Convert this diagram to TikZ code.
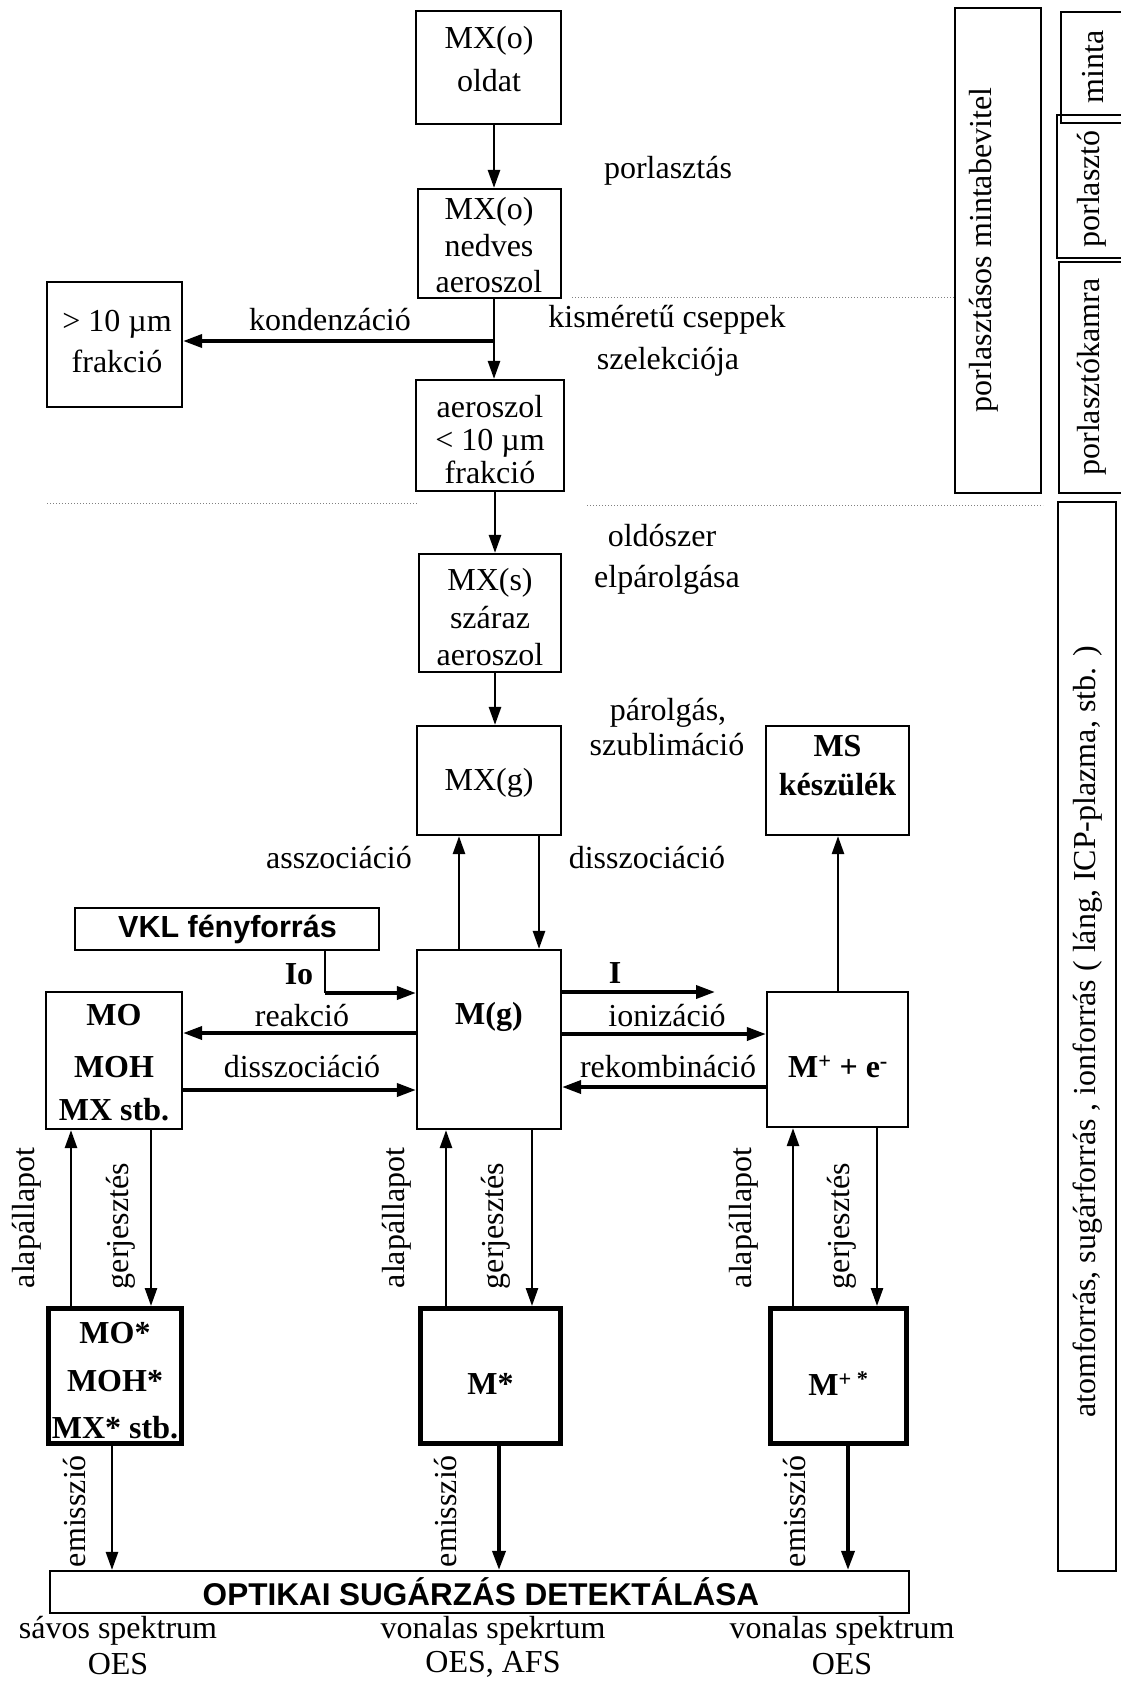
\documentclass[tikz,border=0pt]{standalone}
\usepackage{fontspec}
\setmainfont{Liberation Serif}
\newfontfamily\arialf{Liberation Sans}
\usetikzlibrary{arrows.meta}
\begin{document}
\begin{tikzpicture}[x=1pt,y=-1pt,
  box/.style={draw, line width=2.2pt, inner sep=0pt},
  tbox/.style={draw, line width=5pt, inner sep=0pt},
  txt/.style={font=\fontsize{32}{36}\selectfont, inner sep=0pt, align=center},
  btxt/.style={font=\fontsize{32}{36}\selectfont\bfseries, inner sep=0pt, align=center},
  stxt/.style={font=\arialf\bfseries\fontsize{30.5}{34}\selectfont, inner sep=0pt},
  arr/.style={line width=2.6pt, -{Triangle[length=18pt,width=12pt]}},
  tarr/.style={line width=3.6pt, -{Triangle[length=19pt,width=13pt]}},
  dotl/.style={dotted, gray, line width=1pt}
]
\useasboundingbox (0,0) rectangle (1120,1681);

% ---------- boxes ----------
\node[box, minimum width=145pt, minimum height=113pt] (oldat) at (488.5,67.5) {};
\node[box, minimum width=143pt, minimum height=109pt] (nedves) at (489.5,243.5) {};
\node[box, minimum width=135pt, minimum height=125pt] (nagy) at (114.5,344.5) {};
\node[box, minimum width=148pt, minimum height=111pt] (kis) at (490,435.5) {};
\node[box, minimum width=142pt, minimum height=118pt] (szaraz) at (490,613) {};
\node[box, minimum width=144pt, minimum height=109pt] (mxg) at (489,780.5) {};
\node[box, minimum width=143pt, minimum height=109pt] (ms) at (837.5,780.5) {};
\node[box, minimum width=304pt, minimum height=42pt] (vkl) at (227,929) {};
\node[box, minimum width=144pt, minimum height=179pt] (mg) at (489,1039.5) {};
\node[box, minimum width=136pt, minimum height=137pt] (mo) at (114,1060.5) {};
\node[box, minimum width=141pt, minimum height=135pt] (mplus) at (837.5,1059.5) {};
\node[tbox, minimum width=133pt, minimum height=135pt] (mostar) at (115,1376) {};
\node[tbox, minimum width=140pt, minimum height=135pt] (mstar) at (490.5,1376) {};
\node[tbox, minimum width=136pt, minimum height=135pt] (mpstar) at (838.5,1376) {};
\node[box, minimum width=859pt, minimum height=42pt] (opt) at (479.5,1592) {};
% right column
\node[box, minimum width=86pt, minimum height=485pt] (porl) at (998,250.5) {};
\node[box, minimum width=82pt, minimum height=111pt] (minta) at (1102,67.5) {};
\node[box, minimum width=86pt, minimum height=143pt] (porlaszto) at (1100,186.5) {};
\node[box, minimum width=82pt, minimum height=231pt] (kamra) at (1100,377.5) {};
\node[box, minimum width=58pt, minimum height=1069pt] (atom) at (1087,1036.5) {};

% ---------- box texts ----------
\node[txt, font=\fontsize{32}{42.5}\selectfont] (toldat) at (489,59) {MX(o)\\oldat};
\node[txt, font=\fontsize{32}{36.5}\selectfont] (tnedves) at (489,245.5) {MX(o)\\nedves\\aeroszol};
\node[txt, font=\fontsize{32}{41}\selectfont] (tnagy) at (117,342) {> 10 µm\\frakció};
\node[txt, font=\fontsize{32}{33}\selectfont] (tkis) at (490,440) {aeroszol\\< 10 µm\\frakció};
\node[txt, font=\fontsize{32}{37.5}\selectfont] (tszaraz) at (490,617.5) {MX(s)\\száraz\\aeroszol};
\node[txt] (tmxg) at (489,783) {MX(g)};
\node[btxt, font=\fontsize{32}{39}\selectfont\bfseries] (tms) at (837.5,765.5) {MS\\készülék};
\node[stxt] (tvkl) at (227.5,929) {VKL fényforrás};
\node[btxt] (tmg) at (489,1017) {M(g)};
\node[btxt, font=\fontsize{32}{43}\selectfont\bfseries] (tmo) at (114,1062.5) {MO\\[9pt]MOH\\MX stb.};
\node[btxt] (tmplus) at (838,1067) {M\textsuperscript{+} + e\textsuperscript{-}};
\node[btxt, font=\fontsize{32}{47.5}\selectfont\bfseries] (tmostar) at (115,1381) {MO*\\MOH*\\MX* stb.};
\node[btxt] (tmstar) at (490.5,1384) {M*};
\node[btxt] (tmpstar) at (838.5,1384) {M\textsuperscript{+ *}};
\node[stxt, font=\arialf\bfseries\fontsize{31.5}{34}\selectfont] (topt) at (481,1592) {OPTIKAI SUGÁRZÁS DETEKTÁLÁSA};

% bottom texts
\node[txt] (b1) at (118,1631) {sávos spektrum};
\node[txt] (b2) at (118,1664) {OES};
\node[txt] (b3) at (493,1631) {vonalas spekrtum};
\node[txt] (b4) at (493,1664) {OES, AFS};
\node[txt] (b5) at (842,1631) {vonalas spektrum};
\node[txt] (b6) at (842,1664) {OES};

% right column texts
\node[txt, rotate=90] (tporl) at (984,250) {porlasztásos mintabevitel};
\node[txt, rotate=90] (tminta) at (1093,67) {minta};
\node[txt, rotate=90] (tporlaszto) at (1092,189) {porlasztó};
\node[txt, rotate=90] (tkamra) at (1092,377) {porlasztókamra};
\node[txt, rotate=90] (tatom) at (1088,1032) {atomforrás, sugárforrás , ionforrás ( láng, ICP-plazma, stb. )};

% ---------- process labels ----------
\node[txt] (lporl) at (668,171) {porlasztás};
\node[txt] (lkond) at (330,320) {kondenzáció};
\node[txt] (lkism) at (667,320) {kisméretű cseppek};
\node[txt] (lszel) at (668,362) {szelekciója};
\node[txt] (lolds) at (662,536) {oldószer};
\node[txt] (lelp) at (667,580) {elpárolgása};
\node[txt] (lparo) at (668,713) {párolgás,};
\node[txt] (lszub) at (667,745) {szublimáció};
\node[txt] (lassz) at (339,858) {asszociáció};
\node[txt] (ldissz) at (647,858) {disszociáció};
\node[btxt] (lio) at (299,974) {Io};
\node[btxt] (li) at (615,973) {I};
\node[txt] (lreak) at (302,1016) {reakció};
\node[txt] (ldissz2) at (302,1067) {disszociáció};
\node[txt] (lion) at (667,1016) {ionizáció};
\node[txt] (lrek) at (668,1067) {rekombináció};

\node[txt, rotate=90] (la1) at (27,1218) {alapállapot};
\node[txt, rotate=90] (lg1) at (121,1226) {gerjesztés};
\node[txt, rotate=90] (la2) at (397,1218) {alapállapot};
\node[txt, rotate=90] (lg2) at (496,1226) {gerjesztés};
\node[txt, rotate=90] (la3) at (744,1218) {alapállapot};
\node[txt, rotate=90] (lg3) at (842,1226) {gerjesztés};
\node[txt, rotate=90] (le1) at (75,1511) {emisszió};
\node[txt, rotate=90] (le2) at (446,1511) {emisszió};
\node[txt, rotate=90] (le3) at (795,1511) {emisszió};

% ---------- dotted separators ----------
\draw[dotl] (572,297) -- (955,297);
\draw[dotl] (47,503) -- (417,503);
\draw[dotl] (587,505) -- (1043,505);

% ---------- column coordinates ----------
\coordinate (cA) at (494,0);
\coordinate (cB) at (495,0);
\coordinate (cUp) at (459,0);
\coordinate (cDn) at (539,0);
\coordinate (cMS) at (838,0);
\coordinate (br) at (494,341);
\coordinate (io) at (325,993);
\coordinate (iend) at (715,992);
\coordinate (yR) at (0,1033);
\coordinate (yD) at (0,1090);
\coordinate (yI) at (0,1034);
\coordinate (yK) at (0,1087);
\coordinate (u1) at (71,0);
\coordinate (d1) at (151,0);
\coordinate (u2) at (446,0);
\coordinate (d2) at (532,0);
\coordinate (u3) at (793,0);
\coordinate (d3) at (877,0);
\coordinate (e1) at (112,0);
\coordinate (e2) at (499,0);
\coordinate (e3) at (848,0);

% ---------- connectors ----------
\draw[arr] (oldat.south -| cA) -- (nedves.north -| cA);
\draw[arr] (nedves.south -| cA) -- (kis.north -| cA);
\draw[tarr] (br) -- (nagy.east |- br);
\draw[arr] (kis.south -| cB) -- (szaraz.north -| cB);
\draw[arr] (szaraz.south -| cB) -- (mxg.north -| cB);
\draw[arr] (mg.north -| cUp) -- (mxg.south -| cUp);
\draw[arr] (mxg.south -| cDn) -- (mg.north -| cDn);
\draw[arr] (mplus.north -| cMS) -- (ms.south -| cMS);
\draw[line width=2pt] (vkl.south -| io) -- (io);
\draw[tarr] (io) -- (mg.west |- io);
\draw[tarr] (mg.east |- iend) -- (iend);
\draw[tarr] (mg.west |- yR) -- (mo.east |- yR);
\draw[tarr] (mo.east |- yD) -- (mg.west |- yD);
\draw[tarr] (mg.east |- yI) -- (mplus.west |- yI);
\draw[tarr] (mplus.west |- yK) -- (mg.east |- yK);
\draw[arr] (mostar.north -| u1) -- (mo.south -| u1);
\draw[arr] (mo.south -| d1) -- (mostar.north -| d1);
\draw[arr] (mstar.north -| u2) -- (mg.south -| u2);
\draw[arr] (mg.south -| d2) -- (mstar.north -| d2);
\draw[arr] (mpstar.north -| u3) -- (mplus.south -| u3);
\draw[arr] (mplus.south -| d3) -- (mpstar.north -| d3);
\draw[arr] (mostar.south -| e1) -- (opt.north -| e1);
\draw[tarr] (mstar.south -| e2) -- (opt.north -| e2);
\draw[tarr] (mpstar.south -| e3) -- (opt.north -| e3);
\end{tikzpicture}
\end{document}
